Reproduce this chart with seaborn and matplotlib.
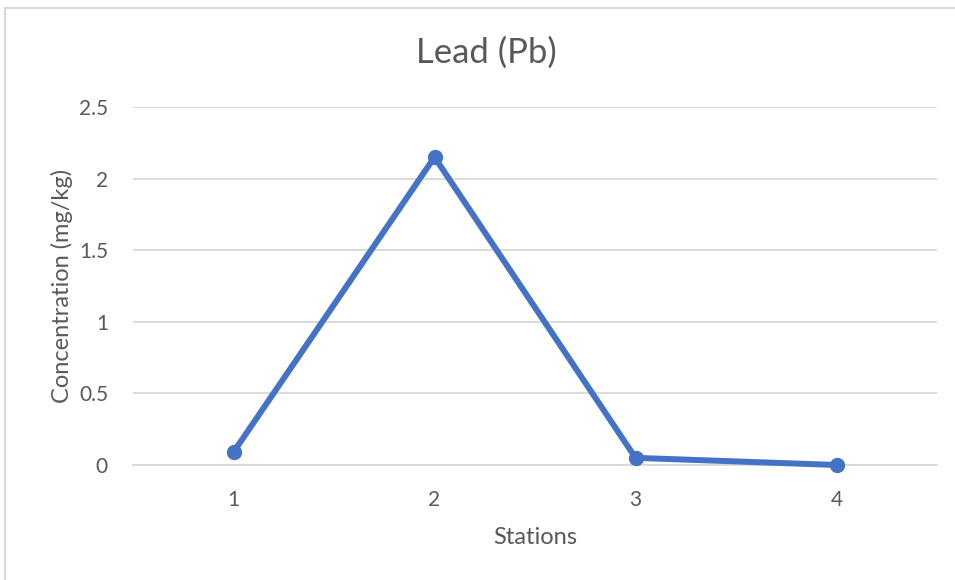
import matplotlib
matplotlib.use("Agg")
import matplotlib.pyplot as plt
from matplotlib.lines import Line2D
import seaborn as sns
import pandas as pd

# Lead concentration per sampling station
stations = [1, 2, 3, 4]
lead_mg_kg = [0.09, 2.15, 0.05, 0.0]
y_ticks = [0, 0.5, 1, 1.5, 2, 2.5]
y_tick_labels = ["0", "0.5", "1", "1.5", "2", "2.5"]

df = pd.DataFrame({"Stations": stations, "Lead": lead_mg_kg})

sns.set_theme(style="white")
plt.rcParams["font.family"] = ["Lato", "DejaVu Sans"]

text_color = "#595959"
line_color = "#4472C4"
grid_color = "#D9D9D9"

fig = plt.figure(figsize=(9.55, 5.8), dpi=100)
ax = fig.add_axes([133 / 955, 1 - 465 / 580, (937 - 133) / 955, (465 - 107) / 580])

sns.lineplot(data=df, x="Stations", y="Lead", ax=ax, color=line_color,
             linewidth=4.3, marker="o", markersize=11, markeredgewidth=0,
             zorder=3, clip_on=False)

ax.set_xlim(0.5, 4.5)
ax.set_ylim(0, 2.5)
ax.set_xticks(stations)
ax.set_xticklabels([str(s) for s in stations])
ax.set_yticks(y_ticks)
ax.set_yticklabels(y_tick_labels)

ax.yaxis.grid(True, color=grid_color, linewidth=1.3)
ax.xaxis.grid(False)
for side in ["top", "right", "left"]:
    ax.spines[side].set_visible(False)
ax.spines["bottom"].set_color(grid_color)
ax.spines["bottom"].set_linewidth(1.3)

ax.tick_params(axis="both", length=0, labelsize=15, colors=text_color)
ax.tick_params(axis="x", pad=18)
ax.tick_params(axis="y", pad=18)

ax.set_xlabel("Stations", fontsize=17, color=text_color, labelpad=12)
ax.set_ylabel("Concentration (mg/kg)", fontsize=17, color=text_color, labelpad=4)
fig.text(486 / 955, 1 - 53 / 580, "Lead (Pb)", ha="center", va="center",
         fontsize=25, color=text_color)

# light chart frame along the top and left edges
fig.add_artist(Line2D([5 / 955, 5 / 955], [0, 1 - 7.5 / 580], transform=fig.transFigure,
                      color=grid_color, linewidth=1.5))
fig.add_artist(Line2D([5 / 955, 1], [1 - 7.5 / 580, 1 - 7.5 / 580], transform=fig.transFigure,
                      color=grid_color, linewidth=1.5))

fig.savefig("out.png", dpi=100, facecolor="white")
